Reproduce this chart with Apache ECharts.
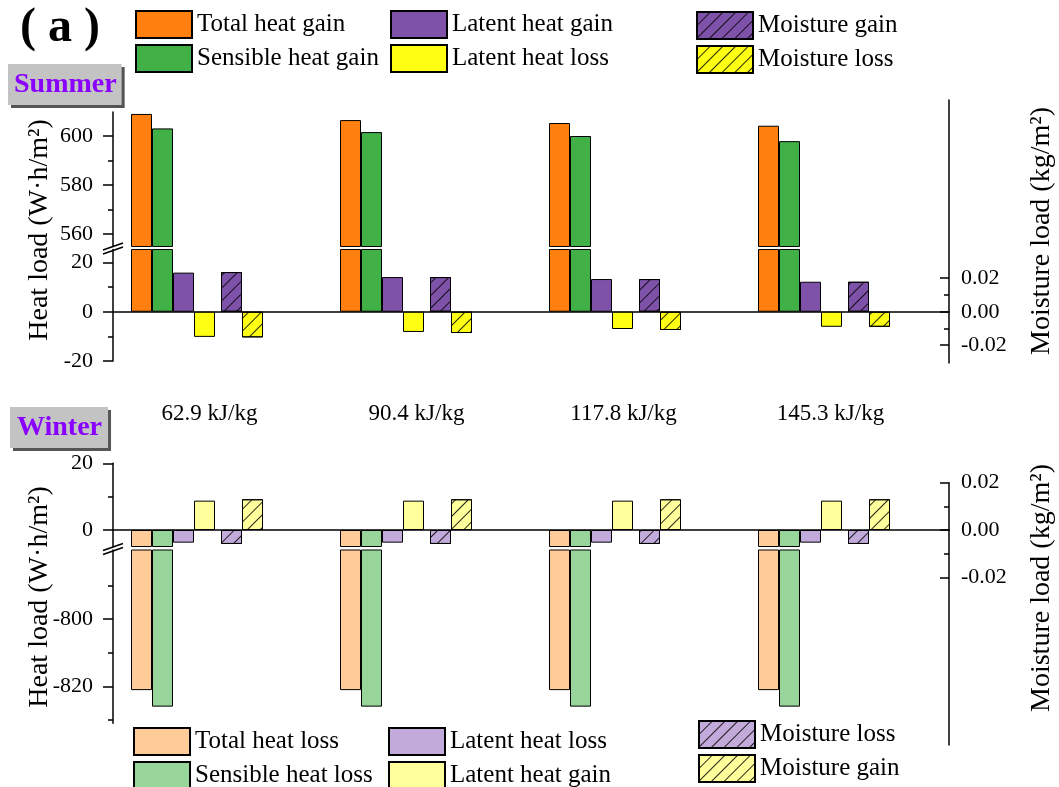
<!DOCTYPE html>
<html>
<head>
<meta charset="utf-8">
<script src="https://cdn.jsdelivr.net/npm/echarts@6/dist/echarts.min.js"></script>
<style>
html,body{margin:0;padding:0;background:#fff;}
#chart{width:1059px;height:787px;}
</style>
</head>
<body>
<div id="chart"></div>
<script>
// ---------------- data ----------------
const categories = ['62.9 kJ/kg', '90.4 kJ/kg', '117.8 kJ/kg', '145.3 kJ/kg'];

const summerTotalGain     = [608.9, 606.4, 605.2, 604.1];
const summerSensibleGain  = [603.0, 601.5, 599.9, 597.8];
const summerLatentGain    = [15.9, 14.1, 13.3, 12.2];
const summerLatentLoss    = [-10.2, -8.2, -7.0, -6.1];
const summerMoistureGain  = [0.0237, 0.0207, 0.0195, 0.0179];
const summerMoistureLoss  = [-0.0153, -0.0127, -0.0109, -0.0090];

const winterTotalLoss     = [-821.1, -821.1, -821.1, -821.1];
const winterSensibleLoss  = [-826.0, -826.0, -826.0, -826.0];
const winterLatentLoss    = [-3.8, -3.8, -3.8, -3.8];
const winterLatentGain    = [8.8, 8.8, 8.8, 8.8];
const winterMoistureLoss  = [-0.0059, -0.0059, -0.0059, -0.0059];
const winterMoistureGain  = [0.0130, 0.0130, 0.0130, 0.0130];

const summerUpperTicks = [560, 580, 600];
const summerUpperMinor = [570, 590];
const summerLowerTicks = [-20, 0, 20];
const summerLowerMinor = [-10, 10];
const winterUpperTicks = [0, 20];
const winterUpperMinor = [10];
const winterLowerTicks = [-820, -800];
const winterLowerMinor = [-830, -810, -790];
const moistureTicks    = [-0.02, 0, 0.02];
const moistureMinor    = [-0.01, 0.01];

// ---------------- styling ----------------
const FONT = "'Liberation Serif', 'Times New Roman', serif";
const C = {
  orange: '#FF800E', green: '#41B047', purple: '#7F52A9', yellow: '#FFFF14',
  lorange: '#FFCC99', lgreen: '#98D59A', lpurple: '#C2ABDA', lyellow: '#FFFF9C'
};
const hatch = {
  symbol: 'rect', symbolSize: 1, dashArrayX: [1, 0], dashArrayY: [1, 8],
  rotation: -Math.PI / 4, color: 'rgba(0,0,0,0.85)'
};
const BW = 21;
const empty = categories.map(() => '-');

function bar(name, data, color, xi, yi, decal) {
  const it = { color: color, borderColor: '#000', borderWidth: 1 };
  if (decal) it.decal = hatch;
  return { type: 'bar', name: name, data: data, xAxisIndex: xi, yAxisIndex: yi,
    barWidth: BW, barGap: '0%', itemStyle: it, silent: true };
}
function ph(width, xi, yi) {
  return { type: 'bar', name: '_ph', data: empty, xAxisIndex: xi, yAxisIndex: yi,
    barWidth: width, barGap: '0%', itemStyle: { color: 'rgba(0,0,0,0)' }, silent: true };
}

const L = 113, R = 110;
const grids = [
  { left: L, right: R, top: 112,   height: 134.5 }, // 0 summer upper heat
  { left: L, right: R, top: 249.5, height: 111.5 }, // 1 summer lower heat
  { left: L, right: R, top: 100,   height: 263 },   // 2 summer moisture
  { left: L, right: R, top: 463.3, height: 83.2 },  // 3 winter upper heat
  { left: L, right: R, top: 550,   height: 173.3 }, // 4 winter lower heat
  { left: L, right: R, top: 482.7, height: 262.3 }, // 5 winter moisture
  { left: 106, right: 125, top: 380, height: 20 }   // 6 category labels
];

function hiddenX(g) {
  return { type: 'category', gridIndex: g, data: categories, show: false };
}
function lineX(g) {
  return { type: 'category', gridIndex: g, data: categories, position: 'bottom',
    axisLine: { show: true, onZero: true, lineStyle: { color: '#000', width: 1.5 } },
    axisTick: { show: false }, axisLabel: { show: false }, splitLine: { show: false } };
}
function heatY(g, min, max, ticks) {
  return { type: 'value', gridIndex: g, position: 'left', min: min, max: max,
    axisLine: { show: true, onZero: false, lineStyle: { color: '#000', width: 1.5 } },
    axisTick: { show: true, customValues: ticks, length: 10, lineStyle: { color: '#000', width: 1.5 } },
    axisLabel: { show: true, customValues: ticks, margin: 20, fontSize: 22, fontFamily: FONT, color: '#000' },
    splitLine: { show: false } };
}
function minorY(g, min, max, ticks, pos, inside) {
  return { type: 'value', gridIndex: g, position: pos, min: min, max: max,
    axisLine: { show: false, onZero: false },
    axisTick: { show: true, inside: !!inside, customValues: ticks, length: 5, lineStyle: { color: '#000', width: 1.5 } },
    axisLabel: { show: false }, splitLine: { show: false } };
}
function moistY(g, min, max) {
  return { type: 'value', gridIndex: g, position: 'right', min: min, max: max,
    axisLine: { show: true, onZero: false, lineStyle: { color: '#000', width: 1.5 } },
    axisTick: { show: true, inside: true, customValues: moistureTicks, length: 9, lineStyle: { color: '#000', width: 1.5 } },
    axisLabel: { show: true, customValues: moistureTicks, margin: 12, fontSize: 22, fontFamily: FONT, color: '#000',
      formatter: v => Number(v).toFixed(2) },
    splitLine: { show: false } };
}

const xAxes = [
  hiddenX(0), lineX(1), hiddenX(2), lineX(3), hiddenX(4), hiddenX(5),
  { type: 'category', gridIndex: 6, data: categories, position: 'bottom',
    axisLine: { show: false }, axisTick: { show: false },
    axisLabel: { show: true, margin: 2, fontSize: 23, fontFamily: FONT, color: '#000' } }
];

const yAxes = [
  heatY(0, 554.8, 609.7, summerUpperTicks), minorY(0, 554.8, 609.7, summerUpperMinor, 'left'),
  heatY(1, -20, 25.3, summerLowerTicks),    minorY(1, -20, 25.3, summerLowerMinor, 'left'),
  moistY(2, -0.0306, 0.1264),               minorY(2, -0.0306, 0.1264, moistureMinor, 'right', true),
  heatY(3, -4.95, 20, winterUpperTicks),    minorY(3, -4.95, 20, winterUpperMinor, 'left'),
  heatY(4, -830.95, -779.5, winterLowerTicks), minorY(4, -830.95, -779.5, winterLowerMinor, 'left'),
  moistY(5, -0.0909, 0.02),                 minorY(5, -0.0909, 0.02, moistureMinor, 'right', true),
  { type: 'value', gridIndex: 6, show: false, min: 0, max: 1 }
];

const series = [
  // summer upper heat
  bar('Total heat gain', summerTotalGain, C.orange, 0, 0),
  bar('Sensible heat gain', summerSensibleGain, C.green, 0, 0),
  ph(131, 0, 0),
  // summer lower heat
  bar('Total heat gain', summerTotalGain, C.orange, 1, 2),
  bar('Sensible heat gain', summerSensibleGain, C.green, 1, 2),
  bar('Latent heat gain', summerLatentGain, C.purple, 1, 2),
  bar('Latent heat loss', summerLatentLoss, C.yellow, 1, 2),
  ph(89, 1, 2),
  // summer moisture
  ph(90, 2, 4),
  bar('Moisture gain', summerMoistureGain, C.purple, 2, 4, true),
  bar('Moisture loss', summerMoistureLoss, C.yellow, 2, 4, true),
  ph(41, 2, 4),
  // winter upper heat
  bar('W:Total heat loss', winterTotalLoss, C.lorange, 3, 6),
  bar('W:Sensible heat loss', winterSensibleLoss, C.lgreen, 3, 6),
  bar('W:Latent heat loss', winterLatentLoss, C.lpurple, 3, 6),
  bar('W:Latent heat gain', winterLatentGain, C.lyellow, 3, 6),
  ph(89, 3, 6),
  // winter lower heat
  bar('W:Total heat loss', winterTotalLoss, C.lorange, 4, 8),
  bar('W:Sensible heat loss', winterSensibleLoss, C.lgreen, 4, 8),
  ph(131, 4, 8),
  // winter moisture
  ph(90, 5, 10),
  bar('W:Moisture loss', winterMoistureLoss, C.lpurple, 5, 10, true),
  bar('W:Moisture gain', winterMoistureGain, C.lyellow, 5, 10, true),
  ph(41, 5, 10)
];

function legend(data, left, top) {
  return { data: data, left: left, top: top, width: 260, height: 90, orient: 'vertical', padding: 0,
    itemWidth: 56, itemHeight: 27, itemGap: 5, icon: 'rect', selectedMode: false,
    formatter: n => n.replace(/^W:/, ''),
    textStyle: { fontSize: 25, fontFamily: FONT, color: '#000', lineHeight: 27 } };
}
const legends = [
  legend(['Total heat gain', 'Sensible heat gain'], 135, 10),
  legend(['Latent heat gain', 'Latent heat loss'], 390, 10),
  legend(['Moisture gain', 'Moisture loss'], 696, 11),
  legend(['W:Total heat loss', 'W:Sensible heat loss'], 133, 727),
  legend(['W:Latent heat loss', 'W:Latent heat gain'], 388, 727),
  legend(['W:Moisture loss', 'W:Moisture gain'], 698, 720)
];

const titles = [
  { text: '( a )', left: 20, top: 5, padding: 0,
    textStyle: { fontSize: 48, fontWeight: 'bold', fontFamily: FONT, color: '#000' } },
  { text: 'Summer', left: 8, top: 64, padding: [7, 5, 6, 6], backgroundColor: '#C3C3C3',
    shadowColor: '#555', shadowOffsetX: 3, shadowOffsetY: 3, shadowBlur: 0,
    textStyle: { fontSize: 28, fontWeight: 'bold', fontFamily: FONT, color: '#8A00FF' } },
  { text: 'Winter', left: 10, top: 407, padding: [7, 6, 6, 7], backgroundColor: '#C3C3C3',
    shadowColor: '#555', shadowOffsetX: 3, shadowOffsetY: 3, shadowBlur: 0,
    textStyle: { fontSize: 28, fontWeight: 'bold', fontFamily: FONT, color: '#8A00FF' } }
];

function vtext(text, x, y) {
  return { type: 'text', x: x, y: y, rotation: Math.PI / 2, silent: true,
    style: { text: text, fontSize: 28, fontFamily: FONT, fill: '#000',
      align: 'center', verticalAlign: 'middle', textAlign: 'center', textVerticalAlign: 'middle' } };
}
function breakMark(y) {
  return [
    { type: 'polygon', silent: true, shape: { points: [[103, y + 2], [123, y - 5], [123, y - 1], [103, y + 6]] },
      style: { fill: '#fff' } },
    { type: 'line', silent: true, shape: { x1: 103, y1: y + 2, x2: 123, y2: y - 5 },
      style: { stroke: '#000', lineWidth: 1.5 } },
    { type: 'line', silent: true, shape: { x1: 103, y1: y + 6, x2: 123, y2: y - 1 },
      style: { stroke: '#000', lineWidth: 1.5 } }
  ];
}

const option = {
  animation: false,
  backgroundColor: '#fff',
  title: titles,
  legend: legends,
  grid: grids,
  xAxis: xAxes,
  yAxis: yAxes,
  series: series,
  graphic: [
    vtext('Heat load (W·h/m²)', 40, 230),
    vtext('Heat load (W·h/m²)', 40, 597),
    vtext('Moisture load (kg/m²)', 1042, 231),
    vtext('Moisture load (kg/m²)', 1042, 588)
  ].concat(breakMark(248), breakMark(548.5))
};

const chart = echarts.init(document.getElementById('chart'), null, { renderer: 'canvas' });
chart.setOption(option);
</script>
</body>
</html>
